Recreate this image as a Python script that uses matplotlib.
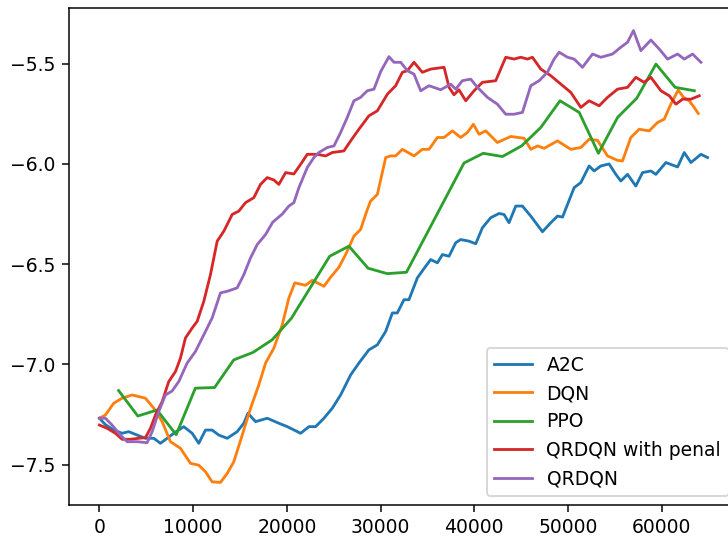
import matplotlib
matplotlib.use('Agg')
import matplotlib.pyplot as plt

# smoothed episode reward per algorithm
a2c_steps = [0, 640, 1530, 2420, 3130, 4030, 4910, 5800, 6510, 7230,
             7940, 9000, 9900, 10600, 11320, 12030, 12740, 13640, 14700, 15410,
             15850, 16660, 17910, 19150, 20050, 21470, 22360, 23070, 23960, 24850,
             25740, 26810, 27690, 28760, 29660, 30550, 31260, 31790, 32500, 33030,
             33930, 34820, 35350, 36070, 36600, 37310, 38020, 38550, 39440, 40160,
             40870, 41760, 42650, 43180, 43710, 44430, 45140, 46030, 47280, 48170,
             48880, 49420, 50660, 51370, 52260, 52790, 53510, 54390, 55110, 55640,
             56360, 57240, 57960, 58850, 59380, 60450, 61700, 62410, 63120, 64190,
             64900]
a2c_reward = [-7.268, -7.300, -7.327, -7.343, -7.335, -7.352, -7.368, -7.368, -7.393, -7.368,
              -7.343, -7.310, -7.343, -7.393, -7.327, -7.327, -7.352, -7.368, -7.335, -7.293,
              -7.243, -7.285, -7.268, -7.293, -7.310, -7.343, -7.310, -7.310, -7.268, -7.218,
              -7.152, -7.052, -6.993, -6.927, -6.902, -6.835, -6.743, -6.743, -6.677, -6.677,
              -6.568, -6.510, -6.477, -6.493, -6.452, -6.460, -6.393, -6.377, -6.385, -6.398,
              -6.318, -6.268, -6.247, -6.252, -6.293, -6.210, -6.210, -6.260, -6.338, -6.293,
              -6.260, -6.265, -6.118, -6.093, -6.010, -6.035, -6.010, -6.000, -6.052, -6.085,
              -6.052, -6.110, -6.043, -6.035, -6.052, -5.993, -6.015, -5.943, -5.993, -5.952,
              -5.968]

dqn_steps = [0, 640, 1530, 2420, 3490, 4200, 4910, 5800, 6700, 7580,
             8650, 9720, 10600, 11320, 12030, 12920, 13640, 14340, 15240, 16130,
             17010, 17730, 18620, 19510, 20220, 20850, 22000, 22720, 23960, 24670,
             25560, 26270, 27160, 27870, 28590, 28940, 29660, 30550, 31080, 31610,
             32330, 33570, 34460, 35170, 36070, 36780, 37670, 38550, 39270, 39910,
             40510, 41230, 42470, 43900, 45320, 46030, 46750, 47460, 48880, 50300,
             51370, 52260, 53150, 54220, 55290, 55820, 56710, 57600, 58670, 59560,
             60270, 60980, 61760, 62340, 62930, 63470, 63900]
dqn_reward = [-7.268, -7.252, -7.193, -7.168, -7.152, -7.160, -7.168, -7.218, -7.285, -7.385,
              -7.418, -7.493, -7.502, -7.535, -7.585, -7.588, -7.543, -7.485, -7.352, -7.218,
              -7.102, -6.993, -6.918, -6.802, -6.668, -6.593, -6.605, -6.580, -6.610, -6.565,
              -6.515, -6.452, -6.360, -6.327, -6.227, -6.185, -6.152, -5.968, -5.960, -5.960,
              -5.927, -5.960, -5.927, -5.927, -5.868, -5.868, -5.835, -5.868, -5.843, -5.802,
              -5.852, -5.835, -5.893, -5.863, -5.872, -5.927, -5.910, -5.922, -5.885, -5.927,
              -5.918, -5.877, -5.882, -5.960, -5.982, -5.985, -5.868, -5.827, -5.835, -5.793,
              -5.777, -5.702, -5.632, -5.668, -5.685, -5.718, -5.748]

ppo_steps = [2048, 4096, 6144, 8192, 10240, 12288, 14336, 16384, 18432, 20480,
             24576, 26624, 28672, 30720, 32768, 38912, 40960, 43008, 45056, 47104,
             49152, 51200, 53248, 55296, 57344, 59392, 61440, 63488]
ppo_reward = [-7.130, -7.257, -7.227, -7.350, -7.118, -7.115, -6.977, -6.940, -6.877, -6.770,
              -6.460, -6.410, -6.520, -6.547, -6.540, -5.995, -5.947, -5.963, -5.910, -5.818,
              -5.685, -5.743, -5.947, -5.768, -5.672, -5.502, -5.618, -5.635]

penal_steps = [0, 820, 1710, 2420, 3310, 4200, 4910, 5450, 5980, 6700,
               7400, 8120, 8650, 9180, 9900, 10430, 11140, 11850, 12570, 13280,
               14170, 14880, 15590, 16480, 17190, 17910, 18620, 19150, 19870, 20750,
               21470, 22180, 23250, 24140, 24850, 26090, 26810, 27690, 28760, 29660,
               30730, 31610, 32330, 32860, 33570, 34460, 35350, 36780, 37310, 37840,
               38370, 39090, 39980, 40870, 42290, 43360, 44250, 44960, 45680, 46210,
               47100, 48170, 49240, 50300, 51370, 52260, 53330, 54220, 55290, 56360,
               57240, 58130, 58850, 59920, 60810, 61520, 62230, 63120, 64010]
penal_reward = [-7.302, -7.318, -7.343, -7.373, -7.373, -7.368, -7.365, -7.318, -7.252, -7.185,
                -7.085, -7.035, -6.968, -6.868, -6.818, -6.785, -6.685, -6.552, -6.385, -6.335,
                -6.252, -6.235, -6.193, -6.168, -6.102, -6.068, -6.080, -6.102, -6.043, -6.050,
                -6.002, -5.952, -5.952, -5.960, -5.943, -5.935, -5.885, -5.827, -5.760, -5.735,
                -5.652, -5.610, -5.543, -5.535, -5.493, -5.543, -5.527, -5.518, -5.618, -5.655,
                -5.630, -5.685, -5.635, -5.593, -5.585, -5.468, -5.477, -5.468, -5.477, -5.468,
                -5.527, -5.560, -5.602, -5.643, -5.718, -5.685, -5.710, -5.668, -5.627, -5.618,
                -5.568, -5.593, -5.568, -5.635, -5.660, -5.702, -5.677, -5.677, -5.660]

qrdqn_steps = [0, 640, 1350, 2240, 2960, 4030, 5090, 5630, 6330, 7050,
               7760, 8470, 9360, 10250, 11140, 12030, 12920, 13640, 14700, 15410,
               16130, 16840, 17730, 18500, 19510, 20220, 20750, 21290, 22180, 22890,
               23420, 24320, 25030, 25740, 26450, 27160, 27870, 28590, 29300, 30010,
               30900, 31430, 32150, 32860, 33570, 34280, 35170, 36420, 37490, 38020,
               38730, 39620, 40340, 41410, 42470, 43360, 44250, 45140, 46030, 46920,
               47810, 48520, 49060, 49950, 50660, 51550, 52620, 53510, 54750, 55640,
               56360, 56990, 57780, 58850, 59740, 60630, 61700, 62410, 63300, 64190]
qrdqn_reward = [-7.268, -7.268, -7.302, -7.352, -7.385, -7.385, -7.390, -7.335, -7.235, -7.152,
                -7.132, -7.085, -6.993, -6.935, -6.852, -6.768, -6.643, -6.635, -6.618, -6.552,
                -6.468, -6.402, -6.352, -6.290, -6.250, -6.210, -6.193, -6.118, -6.018, -5.968,
                -5.943, -5.918, -5.910, -5.843, -5.768, -5.685, -5.668, -5.635, -5.627, -5.540,
                -5.465, -5.493, -5.493, -5.535, -5.552, -5.635, -5.610, -5.630, -5.602, -5.627,
                -5.585, -5.577, -5.618, -5.668, -5.702, -5.752, -5.752, -5.743, -5.610, -5.585,
                -5.543, -5.477, -5.443, -5.468, -5.477, -5.518, -5.452, -5.468, -5.452, -5.418,
                -5.393, -5.335, -5.435, -5.382, -5.427, -5.477, -5.452, -5.477, -5.452, -5.493]

fig = plt.figure(figsize=(728 / 135, 540 / 135), dpi=135)
# axes runs a little past the right edge, like the cropped original
ax = fig.add_axes([69 / 728, 35 / 540, 669 / 728, 497 / 540])

ax.plot(a2c_steps, a2c_reward, label='A2C')
ax.plot(dqn_steps, dqn_reward, label='DQN')
ax.plot(ppo_steps, ppo_reward, label='PPO')
ax.plot(penal_steps, penal_reward, label='QRDQN with penal')
ax.plot(qrdqn_steps, qrdqn_reward, label='QRDQN')

ax.legend(loc='lower right')

fig.savefig('out.png', dpi=135)
